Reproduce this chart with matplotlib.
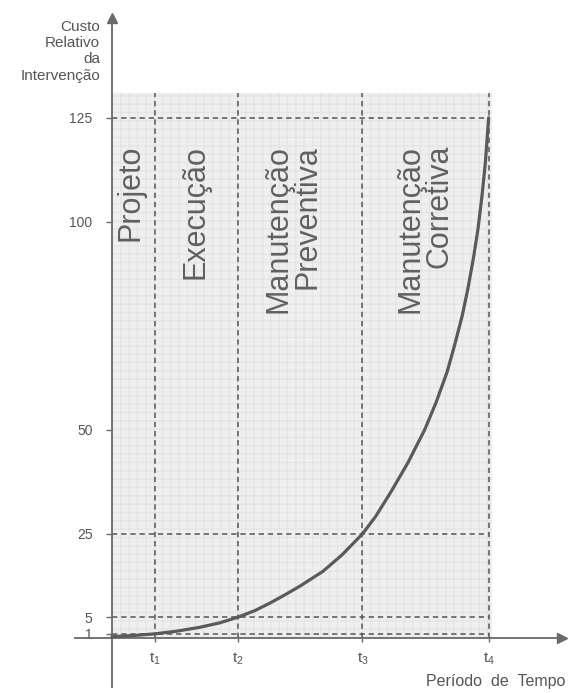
import matplotlib
matplotlib.use("Agg")
import matplotlib.pyplot as plt
from matplotlib.patches import Rectangle

plt.rcParams['font.family'] = ['Liberation Sans', 'DejaVu Sans']

# time marks t1..t4 (arbitrary units, t4 = 10)
t_pos = [1.15, 3.35, 6.65, 10.0]
t_labels = [r'$\mathregular{t_1}$', r'$\mathregular{t_2}$',
            r'$\mathregular{t_3}$', r'$\mathregular{t_4}$']

# relative cost marks
cost_ticks = [1, 5, 25, 50, 100, 125]
cost_levels = [1, 5, 25, 125]

# cost curve
curve_x = [0.0, 0.6, 1.15, 1.7, 2.3, 2.85, 3.35, 3.8, 4.2, 4.6, 5.0, 5.6, 6.1,
           6.65, 7.0, 7.4, 7.85, 8.3, 8.6, 8.9, 9.1, 9.3, 9.45, 9.6, 9.72,
           9.82, 9.91, 10.0]
curve_y = [0.3, 0.6, 1.0, 1.6, 2.5, 3.6, 5.0, 6.6, 8.4, 10.4, 12.5, 16.0, 19.9,
           25.0, 29.2, 35.0, 42.0, 50.0, 56.5, 64.0, 70.5, 77.5, 84.0, 91.5, 98.5,
           106.0, 114.0, 125.0]

phases = ['Projeto', 'Execução', 'Manutenção\nPreventiva', 'Manutenção\nCorretiva']
phase_x = [0.5, 2.23, 4.8, 8.3]

ink = '#555555'
axis_col = '#6a6a6a'

fig = plt.figure(figsize=(5.68, 6.93), dpi=100)
ax = fig.add_axes([0.132, 0.0087, 0.857, 0.9654])
ax.set_xlim(-0.98, 11.94)
ax.set_ylim(-11.78, 149.0)

# shaded region behind the chart
ax.add_patch(Rectangle((0, 0), 10.1, 131, facecolor='#efefef', edgecolor='#e5e5e5',
                       hatch='++', lw=0, zorder=0))

for t in t_pos:
    ax.plot([t, t], [0, 131], color=ink, lw=1.1, ls=(0, (3.5, 2.5)), zorder=2)
for c in cost_levels:
    ax.plot([0, 10.0], [c, c], color=ink, lw=1.1, ls=(0, (3.5, 2.5)), zorder=2)

ax.plot(curve_x, curve_y, color='#5a5a5a', lw=2.3, solid_capstyle='round',
        solid_joinstyle='round', zorder=3)

for name, x in zip(phases, phase_x):
    ax.text(x, 118.5, name, rotation=90, ha='center', va='top', fontsize=22,
            color='#606060', multialignment='right', linespacing=0.95, zorder=4)

# axes crossing at the origin
for side in ['top', 'right']:
    ax.spines[side].set_visible(False)
ax.spines['left'].set_position(('data', 0))
ax.spines['bottom'].set_position(('data', 0))
for side in ['left', 'bottom']:
    ax.spines[side].set_color(axis_col)
    ax.spines[side].set_linewidth(1.3)
ax.plot(0, 1, '^', color=axis_col, ms=7, transform=ax.get_xaxis_transform(), clip_on=False)
ax.plot(1, 0, '>', color=axis_col, ms=7, transform=ax.get_yaxis_transform(), clip_on=False)

ax.set_yticks(cost_ticks)
ax.set_yticklabels([str(c) for c in cost_ticks])
ax.set_xticks(t_pos)
ax.set_xticklabels(t_labels)
ax.tick_params(axis='y', direction='out', length=4, width=1, color=axis_col,
               labelcolor=ink, labelsize=10, pad=10)
ax.tick_params(axis='x', direction='out', length=3, width=1, color=axis_col,
               labelcolor=ink, labelsize=11, pad=6)
ax.patch.set_visible(False)

fig.text(100 / 568, 1 - 20 / 693, 'Custo\nRelativo\nda\nIntervenção', ha='right', va='top',
         fontsize=11, color=ink, linespacing=1.2)
fig.text(565 / 568, 1 - 686 / 693, 'Período  de  Tempo', ha='right', va='baseline',
         fontsize=11.5, color=ink)

fig.savefig('out.png', dpi=100)
